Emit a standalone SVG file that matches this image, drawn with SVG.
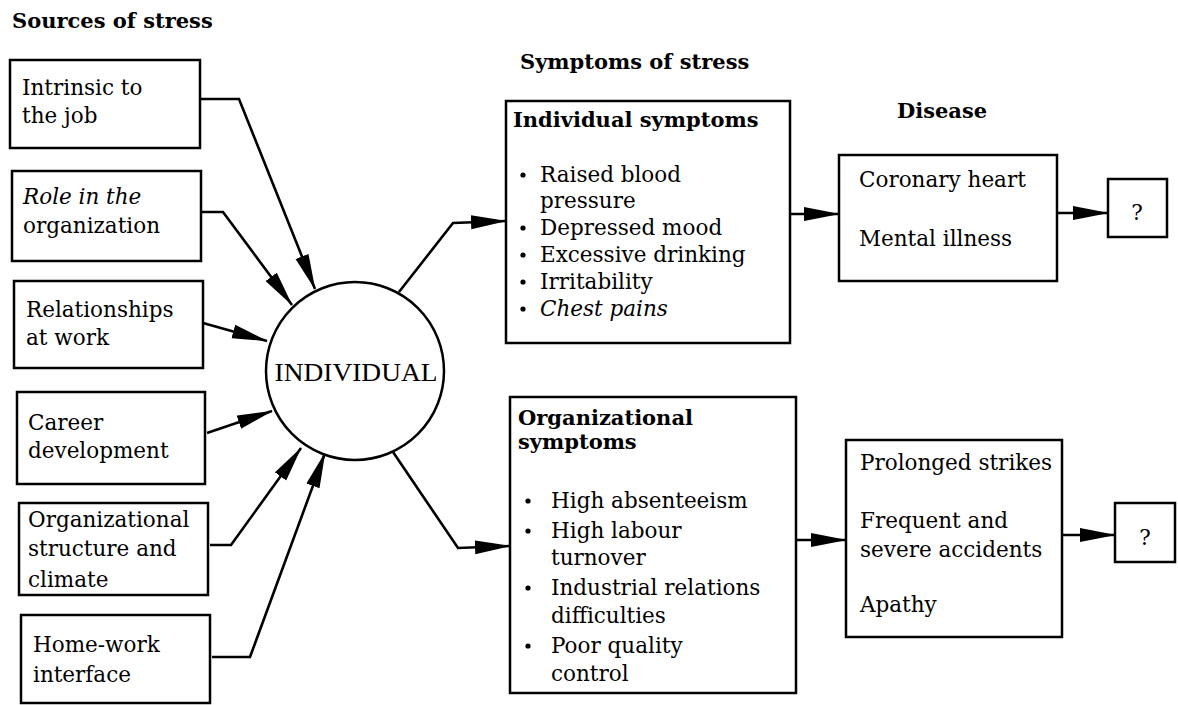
<svg xmlns="http://www.w3.org/2000/svg" width="1178" height="705" viewBox="0 0 1178 705">
<defs>
<style>
.box{fill:#fff;stroke:#000;stroke-width:2.5}
.t{font-family:"DejaVu Serif","Liberation Serif",serif;font-size:21.5px;fill:#000}
.it{font-style:italic}
.h{font-family:"DejaVu Serif","Liberation Serif",serif;font-size:21px;font-weight:bold;fill:#000}
.c{fill:none;stroke:#000;stroke-width:2.6;stroke-linejoin:miter}
.b{fill:#000}
</style>
<marker id="ah" markerUnits="userSpaceOnUse" markerWidth="36" markerHeight="15" refX="35" refY="7.5" orient="auto">
<path d="M0,0.5 L36,7.5 L0,14.5 Z" fill="#000"/>
</marker>
</defs>
<rect width="1178" height="705" fill="#fff"/>

<text class="h" x="12" y="28">Sources of stress</text>
<text class="h" x="520" y="69">Symptoms of stress</text>
<text class="h" x="897" y="118">Disease</text>

<g id="connectors">
<polyline class="c" points="200,99 239,99 315,289" marker-end="url(#ah)"/>
<polyline class="c" points="201,212 223,212 292,305" marker-end="url(#ah)"/>
<polyline class="c" points="203,323 267,341" marker-end="url(#ah)"/>
<polyline class="c" points="207,433 272,411" marker-end="url(#ah)"/>
<polyline class="c" points="210,545 231,545 301,448" marker-end="url(#ah)"/>
<polyline class="c" points="212,657 250,657 325,453" marker-end="url(#ah)"/>
<polyline class="c" points="399,292 453,223 506,221" marker-end="url(#ah)"/>
<polyline class="c" points="393,452 458,548 510,546" marker-end="url(#ah)"/>
<polyline class="c" points="790,214 839,214" marker-end="url(#ah)"/>
<polyline class="c" points="796,540 846,540" marker-end="url(#ah)"/>
<polyline class="c" points="1057,213 1108,213" marker-end="url(#ah)"/>
<polyline class="c" points="1062,535 1115,535" marker-end="url(#ah)"/>
</g>

<g id="src-intrinsic">
<rect class="box" x="10" y="60" width="190" height="88"/>
<text class="t" x="22" y="95">Intrinsic to</text>
<text class="t" x="22" y="123">the job</text>
</g>
<g id="src-role">
<rect class="box" x="12" y="171" width="189" height="90"/>
<text class="t it" x="23" y="204">Role in the</text>
<text class="t" x="23" y="233">organization</text>
</g>
<g id="src-relationships">
<rect class="box" x="14" y="281" width="189" height="87"/>
<text class="t" x="26" y="317">Relationships</text>
<text class="t" x="26" y="345">at work</text>
</g>
<g id="src-career">
<rect class="box" x="17" y="392" width="188" height="92"/>
<text class="t" x="28" y="430">Career</text>
<text class="t" x="28" y="458">development</text>
</g>
<g id="src-orgstructure">
<rect class="box" x="19" y="503" width="189" height="92"/>
<text class="t" x="28" y="527">Organizational</text>
<text class="t" x="28" y="556">structure and</text>
<text class="t" x="28" y="587">climate</text>
</g>
<g id="src-homework">
<rect class="box" x="21" y="615" width="189" height="88"/>
<text class="t" x="33" y="652">Home-work</text>
<text class="t" x="33" y="682">interface</text>
</g>

<g id="individual">
<circle cx="355" cy="371" r="89" fill="#fff" stroke="#000" stroke-width="2.5"/>
<text x="356" y="381" text-anchor="middle" font-family="Liberation Serif, serif" font-size="25" textLength="163" lengthAdjust="spacingAndGlyphs">INDIVIDUAL</text>
</g>

<g id="individual-symptoms">
<rect class="box" x="506" y="101" width="284" height="242"/>
<text class="h" x="513" y="127">Individual symptoms</text>
<circle class="b" cx="523" cy="175" r="2.6"/>
<text class="t" x="540" y="182">Raised blood</text>
<text class="t" x="540" y="208">pressure</text>
<circle class="b" cx="523" cy="228" r="2.6"/>
<text class="t" x="540" y="235">Depressed mood</text>
<circle class="b" cx="523" cy="255" r="2.6"/>
<text class="t" x="540" y="262">Excessive drinking</text>
<circle class="b" cx="523" cy="282" r="2.6"/>
<text class="t" x="540" y="289">Irritability</text>
<circle class="b" cx="523" cy="309" r="2.6"/>
<text class="t it" x="540" y="316">Chest pains</text>
</g>

<g id="org-symptoms">
<rect class="box" x="510" y="397" width="286" height="296"/>
<text class="h" x="518" y="425">Organizational</text>
<text class="h" x="518" y="449">symptoms</text>
<circle class="b" cx="528" cy="501" r="2.6"/>
<text class="t" x="551" y="508">High absenteeism</text>
<circle class="b" cx="528" cy="531" r="2.6"/>
<text class="t" x="551" y="538">High labour</text>
<text class="t" x="551" y="565">turnover</text>
<circle class="b" cx="528" cy="588" r="2.6"/>
<text class="t" x="551" y="595">Industrial relations</text>
<text class="t" x="551" y="623">difficulties</text>
<circle class="b" cx="528" cy="646" r="2.6"/>
<text class="t" x="551" y="653">Poor quality</text>
<text class="t" x="551" y="681">control</text>
</g>

<g id="disease-individual">
<rect class="box" x="839" y="155" width="218" height="126"/>
<text class="t" x="859" y="187">Coronary heart</text>
<text class="t" x="859" y="246">Mental illness</text>
</g>
<g id="disease-org">
<rect class="box" x="846" y="440" width="216" height="197"/>
<text class="t" x="860" y="470">Prolonged strikes</text>
<text class="t" x="860" y="528">Frequent and</text>
<text class="t" x="860" y="557">severe accidents</text>
<text class="t" x="860" y="612">Apathy</text>
</g>
<g id="unknown-1">
<rect class="box" x="1108" y="179" width="59" height="58"/>
<text class="t" x="1137" y="220" text-anchor="middle" font-size="23">?</text>
</g>
<g id="unknown-2">
<rect class="box" x="1115" y="503" width="60" height="59"/>
<text class="t" x="1145" y="545" text-anchor="middle" font-size="23">?</text>
</g>
</svg>
